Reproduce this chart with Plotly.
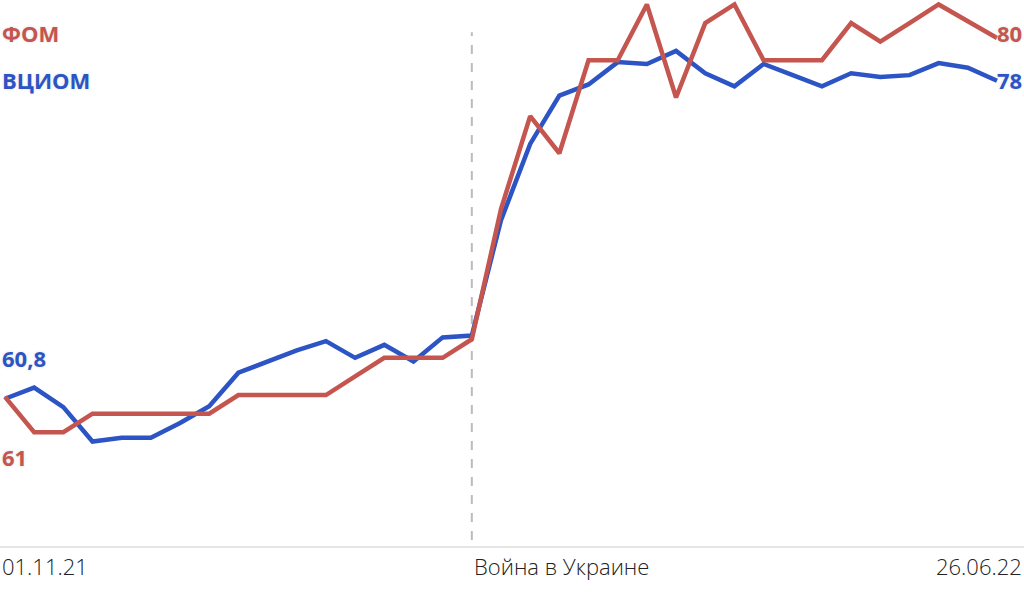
import plotly.graph_objects as go

# weekly points, 01.11.21 .. 26.06.22
weeks = list(range(35))
fom = [60.9, 59.0, 59.0, 60.0, 60.0, 60.0, 60.0, 60.0, 61.0, 61.0, 61.0, 61.0,
       62.0, 63.0, 63.0, 63.0, 64.0, 71.0, 76.0, 74.0, 79.0, 79.0, 82.0, 77.0,
       81.0, 82.0, 79.0, 79.0, 79.0, 81.0, 80.0, 81.0, 82.0, 81.1, 80.2]
vciom = [60.8, 61.4, 60.35, 58.5, 58.7, 58.7, 59.5, 60.4, 62.2, 62.8, 63.4, 63.9,
         63.0, 63.7, 62.8, 64.1, 64.2, 70.4, 74.5, 77.1, 77.7, 78.9, 78.8, 79.5,
         78.3, 77.6, 78.8, 78.2, 77.6, 78.3, 78.1, 78.2, 78.85, 78.6, 77.9]
x_labels = ["01.11.21", "Война в Украине", "26.06.22"]
x_label_pos = [0, 16, 34]
war_week = 16
series_names = ["ФОМ", "ВЦИОМ"]
start_labels = ["61", "60,8"]
end_labels = ["80", "78"]

RED = "#C4554F"
BLUE = "#2C54C4"
FONT = "Open Sans"
halo = "0px 0px 3px #dcdcdc"
LBL = 22

fig = go.Figure()
fig.add_trace(go.Scatter(x=weeks, y=vciom, mode="lines",
                         line=dict(color=BLUE, width=4.5), hoverinfo="skip"))
fig.add_trace(go.Scatter(x=weeks, y=fom, mode="lines",
                         line=dict(color=RED, width=4.5), hoverinfo="skip"))

# war start dashed line
fig.add_shape(type="line", x0=war_week, x1=war_week, y0=53.2, y1=80.5,
              xref="x", yref="y", line=dict(color="#BBBBBB", width=2, dash="dash"),
              layer="below")
# baseline
fig.add_shape(type="line", x0=0, x1=1, y0=0, y1=0, xref="paper", yref="paper",
              line=dict(color="#E6E6E6", width=2), layer="below")

ann = []
def lab(x, y, text, color, anchor):
    return dict(x=x, y=y, xref="paper", yref="paper", xanchor=anchor, yanchor="middle",
                text="<b>" + text + "</b>", showarrow=False,
                font=dict(family=FONT, size=LBL, color=color, shadow=halo))

ann.append(lab(0, 0.9397, series_names[0], RED, "left"))
ann.append(lab(0, 0.8537, series_names[1], BLUE, "left"))
ann.append(lab(0, 0.1645, start_labels[0], RED, "left"))
ann.append(lab(0, 0.3455, start_labels[1], BLUE, "left"))
ann.append(lab(1, 0.9397, end_labels[0], RED, "right"))
ann.append(lab(1, 0.8537, end_labels[1], BLUE, "right"))

# x labels
anchors = ["left", "left", "right"]
for text, pos, anc in zip(x_labels, x_label_pos, anchors):
    xv, xr = pos, "x"
    if pos == 0:
        xv, xr = 0, "paper"
    if anc == "right":
        xv, xr = 1, "paper"
    ann.append(dict(x=xv, y=-0.0347, xref=xr, yref="paper", xanchor=anc, yanchor="middle",
                    text=text, showarrow=False,
                    font=dict(family=FONT, size=22, color="#222222", weight=300)))

fig.update_layout(
    width=1024, height=600,
    margin=dict(l=0, r=0, t=0, b=53),
    paper_bgcolor="white", plot_bgcolor="white",
    showlegend=False,
    annotations=ann,
    xaxis=dict(range=[-0.171, 34.925], showgrid=False, zeroline=False,
               showticklabels=False, ticks="", showline=False, fixedrange=True),
    yaxis=dict(range=[52.83, 82.24], showgrid=False, zeroline=False,
               showticklabels=False, ticks="", showline=False, fixedrange=True),
)

fig.write_html("out.html", config={"displayModeBar": False})
